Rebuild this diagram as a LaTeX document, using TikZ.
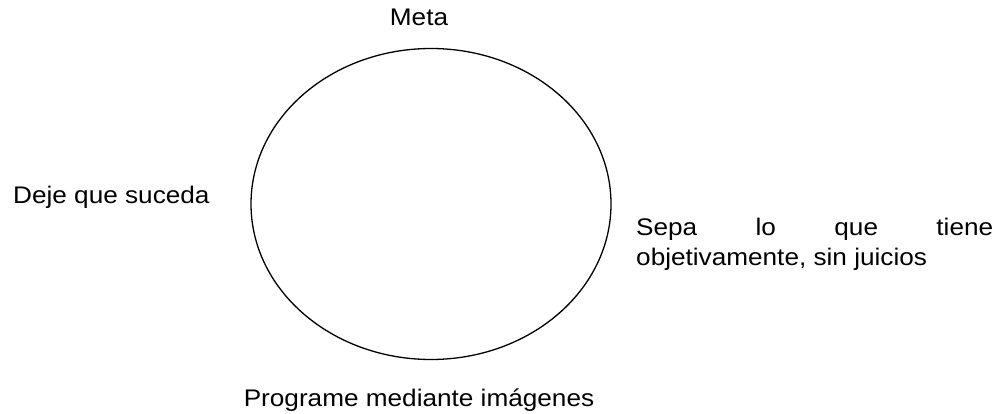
\documentclass[tikz,border=0pt]{standalone}
\usepackage{fontspec}
\setmainfont{Liberation Sans}[FakeStretch=1.09]
\usetikzlibrary{shapes.geometric}
\begin{document}
\begin{tikzpicture}[x=1pt,y=-1pt,
  lbl/.style={inner sep=0pt, font=\fontsize{24}{29.3}\selectfont},
  ring/.style={draw, ellipse, line width=1.3pt, inner sep=0pt}]
\useasboundingbox (0,0) rectangle (1001,414);
\node[ring, minimum width=360pt, minimum height=311pt] (circle) at (431,204) {};
\node[lbl, anchor=base] (meta) at (419,26) {Meta};
\node[lbl, anchor=base west] (deje) at (13,204) {Deje que suceda};
\node[lbl, anchor=base west, align=left] (sepa) at (636,265)
  {\makebox[357pt][s]{Sepa\hfill lo\hfill que\hfill tiene}\\objetivamente, sin juicios};
\node[lbl, anchor=base] (prog) at (419,406.5) {Programe mediante imágenes};
\end{tikzpicture}
\end{document}
